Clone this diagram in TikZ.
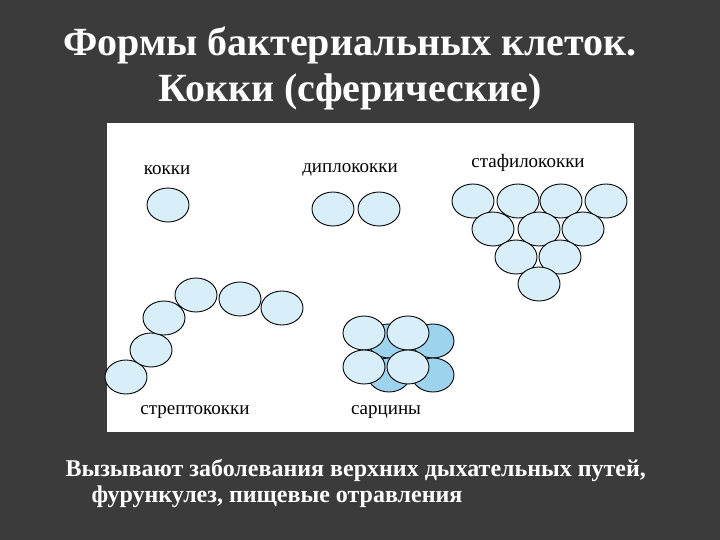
\documentclass[tikz,border=0pt]{standalone}
\usepackage{fontspec}
\setmainfont{Liberation Serif}
\begin{document}
\begin{tikzpicture}[x=1pt,y=-1pt,
  cell/.style={draw=black,line width=0.9pt,fill=cellfill},
  back/.style={draw=black,line width=0.9pt,fill=cellback},
  lbl/.style={font=\fontsize{19}{22}\selectfont,text=black}]
\definecolor{cellfill}{HTML}{D8EEF8}
\definecolor{cellback}{HTML}{9ED3EE}
\definecolor{bg}{HTML}{3B3B3B}
\fill[bg] (0,0) rectangle (720,540);
\useasboundingbox (0,0) rectangle (720,540);
\fill[white] (107,123) rectangle (634,432);
\node[text=white,font=\bfseries\fontsize{40}{46}\selectfont] (t1) at (350,45) {Формы бактериальных клеток.};
\node[text=white,font=\bfseries\fontsize{40}{46}\selectfont] (t2) at (350,92) {Кокки (сферические)};
\node[lbl] (lk) at (167,170) {кокки};
\node[lbl] (ld) at (350,170) {диплококки};
\node[lbl] (ls) at (528,163) {стафилококки};
\node[lbl] (lst) at (195,412) {стрептококки};
\node[lbl] (lsa) at (386,412) {сарцины};
\def\rx{21}\def\ry{17}
\draw[cell] (168,205) ellipse [x radius=\rx,y radius=\ry];
\foreach \x in {333,379} \draw[cell] (\x,209) ellipse [x radius=\rx,y radius=\ry];
\foreach \x in {473,518,561,606} \draw[cell] (\x,201) ellipse [x radius=\rx,y radius=\ry];
\foreach \x in {493,539,583} \draw[cell] (\x,229) ellipse [x radius=\rx,y radius=\ry];
\foreach \x in {516,560} \draw[cell] (\x,257) ellipse [x radius=\rx,y radius=\ry];
\draw[cell] (539,284) ellipse [x radius=\rx,y radius=\ry];
\foreach \p in {(126,377),(151,350),(164,318),(196,295),(240,299),(282,308)}
  \draw[cell] \p ellipse [x radius=\rx,y radius=\ry];
\foreach \p in {(389,341),(433,341),(389,375),(433,375)}
  \draw[back] \p ellipse [x radius=\rx,y radius=\ry];
\foreach \p in {(364,333),(408,333),(364,367),(408,367)}
  \draw[cell] \p ellipse [x radius=\rx,y radius=\ry];
\node[text=white,anchor=west,font=\bfseries\fontsize{24}{27}\selectfont] (b1) at (62,470) {Вызывают заболевания верхних дыхательных путей,};
\node[text=white,anchor=west,font=\bfseries\fontsize{24}{27}\selectfont] (b2) at (88,497) {фурункулез, пищевые отравления};
\end{tikzpicture}
\end{document}
